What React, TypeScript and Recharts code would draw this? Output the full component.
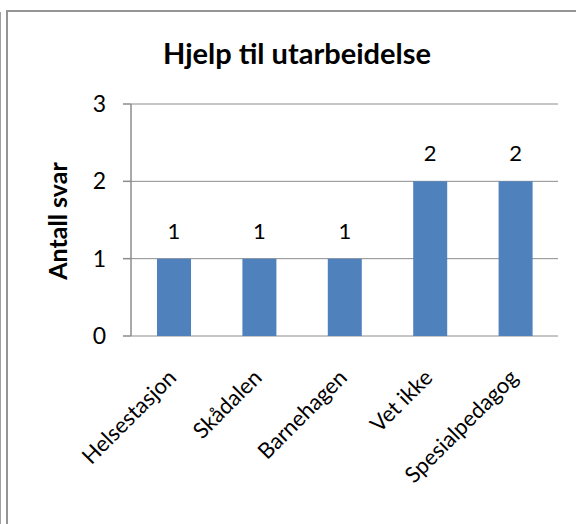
import { BarChart, Bar, XAxis, YAxis, CartesianGrid, LabelList } from "recharts";

const categories = ["Helsestasjon", "Skådalen", "Barnehagen", "Vet ikke", "Spesialpedagog"];
const answers = [1, 1, 1, 2, 2];
const yTicks = [0, 1, 2, 3];
const title = "Hjelp til utarbeidelse";
const yLabel = "Antall svar";

const data = categories.map((name, i) => ({ name, svar: answers[i] }));
const boundaries = [...categories.map((_, i) => i), categories.length];

const FONT = "Lato, 'Open Sans', sans-serif";
const GRAY = "#8c8c8c";

function XTick({ x, y, payload }: any) {
    return (
        <g transform={`translate(${x + 4},${y + 43})`}>
            <text textAnchor="end" transform="rotate(-45)" fontSize={22} fill="#000" fontFamily={FONT}>
                {payload.value}
            </text>
        </g>
    );
}

export default function App() {
    return (
        <div style={{ position: "absolute", left: 0, top: 0, width: 576, height: 524, overflow: "hidden", background: "#fff", fontFamily: FONT }}>
            {/* frame lines */}
            <div style={{ position: "absolute", left: 0, top: 12, width: 1, height: 520, background: "#a0a0a0" }} />
            <div style={{ position: "absolute", left: 6, top: 10, width: 580, height: 520, borderLeft: "2px solid #959595", borderTop: "2px solid #959595" }} />
            <BarChart
                width={576}
                height={524}
                data={data}
                margin={{ top: 104, right: 18, left: 91, bottom: 68 }}
                style={{ position: "absolute", left: 0, top: 0 }}
            >
                <CartesianGrid vertical={false} stroke={GRAY} strokeWidth={1} />
                <XAxis
                    dataKey="name"
                    height={120}
                    tickLine={false}
                    axisLine={false}
                    tickSize={0}
                    tickMargin={0}
                    interval={0}
                    tick={<XTick />}
                />
                <XAxis
                    xAxisId="frame"
                    type="number"
                    domain={[0, categories.length]}
                    ticks={boundaries}
                    height={0}
                    tick={false}
                    tickSize={8}
                    stroke={GRAY}
                    axisLine={{ stroke: GRAY, strokeWidth: 1.5 }}
                    tickLine={{ stroke: GRAY, strokeWidth: 1.5 }}
                />
                <YAxis
                    width={40}
                    domain={[0, 3]}
                    ticks={yTicks}
                    interval={0}
                    tickSize={8}
                    tickMargin={17}
                    stroke={GRAY}
                    axisLine={{ stroke: GRAY, strokeWidth: 1.5 }}
                    tickLine={{ stroke: GRAY, strokeWidth: 1.5 }}
                    tick={{ fill: "#000", fontSize: 23, fontFamily: FONT }}
                />
                <Bar dataKey="svar" fill="#4f81bd" barSize={34} isAnimationActive={false}>
                    <LabelList dataKey="svar" position="top" offset={20} fill="#000" fontSize={22} fontFamily={FONT} />
                </Bar>
                <text x={297} y={64} textAnchor="middle" fontSize={29} fontWeight="bold" fill="#000" fontFamily={FONT}>
                    {title}
                </text>
                <text transform="translate(67,221) rotate(-90)" textAnchor="middle" fontSize={25} fontWeight="bold" fill="#000" fontFamily={FONT}>
                    {yLabel}
                </text>
            </BarChart>
        </div>
    );
}
